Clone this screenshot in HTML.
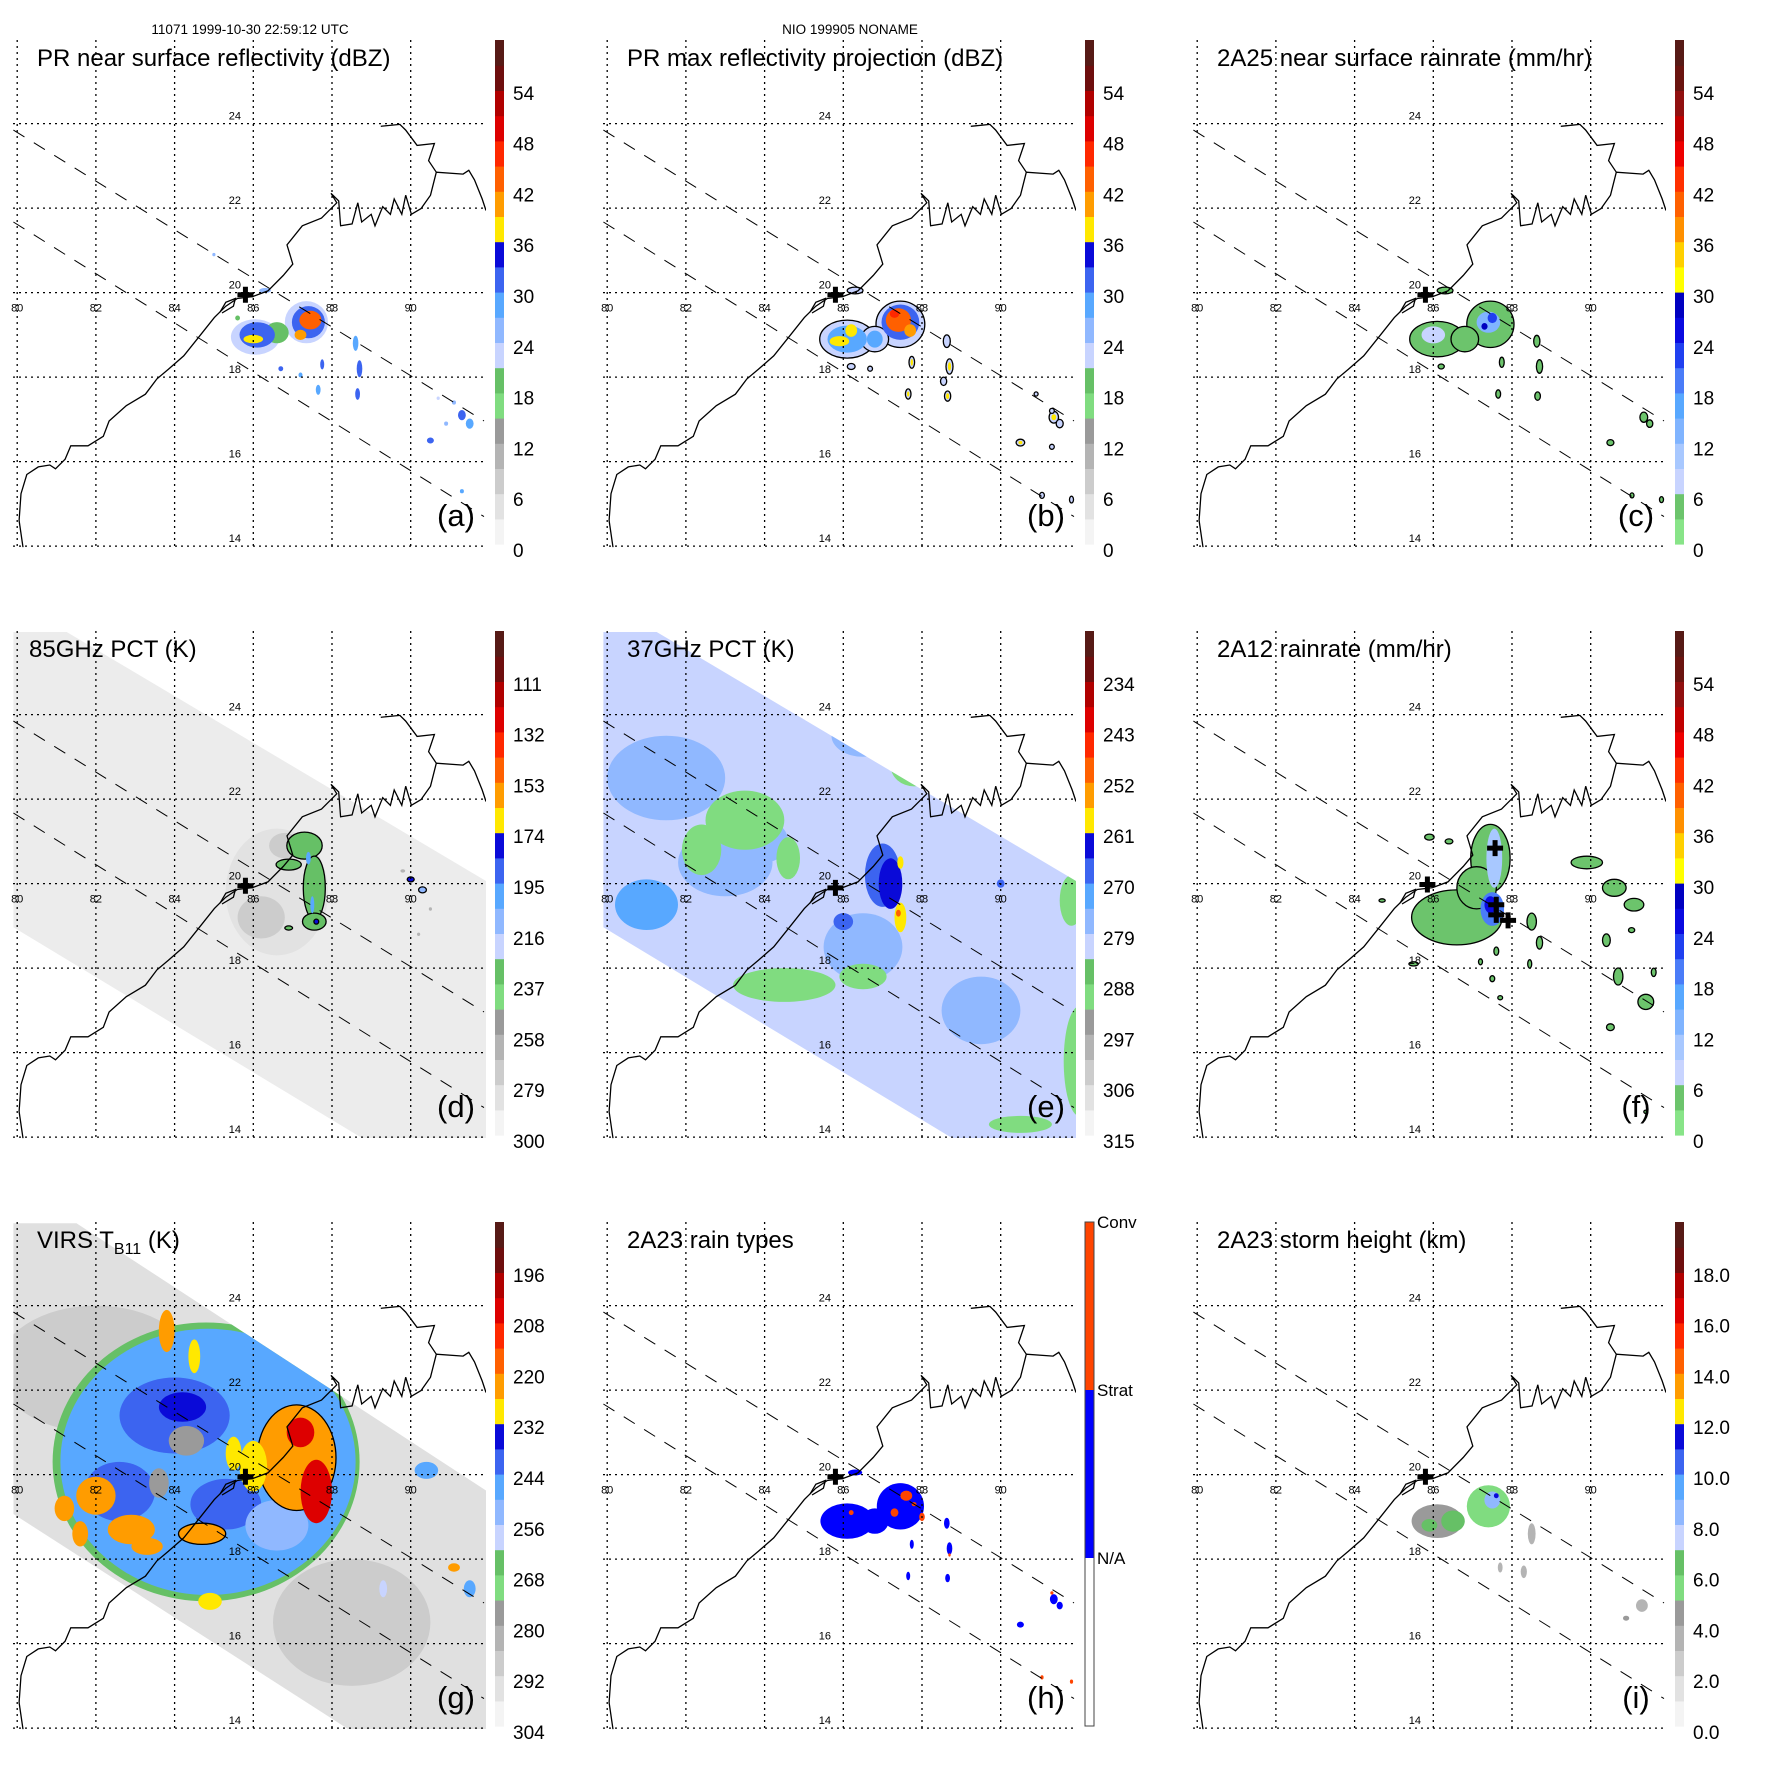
<!DOCTYPE html>
<html><head><meta charset="utf-8"><style>
html,body{margin:0;padding:0;background:#fff}
svg{display:block}
text{font-family:"Liberation Sans",sans-serif}
</style></head><body>
<svg id="fig" xmlns="http://www.w3.org/2000/svg" width="1771" height="1771" viewBox="0 0 1771 1771">
<defs>
<clipPath id="mapclip" clipPathUnits="userSpaceOnUse"><rect x="13.4" y="40.2" width="472.6" height="507.1"/></clipPath>
<clipPath id="swathTMI" clipPathUnits="userSpaceOnUse"><polygon points="13,41 66.7,41 486,290 486,547 362,547 13,336"/></clipPath>
<clipPath id="swathVIRS" clipPathUnits="userSpaceOnUse"><polygon points="13,41.3 76.5,41.3 486,308.5 486,547 348,547 13.4,332"/></clipPath>
</defs>
<text x="250" y="34" font-size="13.5" text-anchor="middle">11071 1999-10-30 22:59:12 UTC</text>
<text x="850" y="34" font-size="13.5" text-anchor="middle">NIO 199905 NONAME</text>
</svg>
<script>
// ---------- data arrays (lon, lat, radius-lon, radius-lat, value) ----------
const panelA = [
[86.05,18.95,0.62,0.42,22],[87.35,19.3,0.55,0.5,23],[86.6,19.05,0.3,0.25,20],
[86.1,19.0,0.45,0.3,30],[87.4,19.3,0.42,0.38,31],[86.0,18.9,0.25,0.1,38],[87.45,19.35,0.28,0.22,42],[87.2,19.0,0.15,0.12,40],
[86.3,20.05,0.15,0.06,26],[85.0,20.9,0.04,0.04,24],[85.6,19.4,0.06,0.06,20],
[88.6,18.8,0.07,0.18,28],[88.7,18.2,0.07,0.2,30],[88.65,17.6,0.06,0.14,32],[87.75,18.3,0.05,0.12,30],[87.65,17.7,0.06,0.12,28],[86.7,18.2,0.06,0.06,30],[87.2,18.05,0.05,0.06,28],
[91.3,17.1,0.1,0.12,30],[91.5,16.9,0.1,0.12,28],[90.5,16.5,0.09,0.07,32],[91.1,17.4,0.05,0.05,26],[90.9,16.9,0.05,0.05,24],[92.0,15.2,0.05,0.08,30],[91.3,15.3,0.05,0.05,28],[90.7,17.5,0.04,0.04,22]
];
const panelB = [
[86.1,18.9,0.7,0.45,22],[87.45,19.25,0.62,0.55,22],[86.8,18.9,0.35,0.3,22],[86.3,20.05,0.2,0.08,22],
[86.1,18.9,0.5,0.32,29],[87.45,19.3,0.48,0.42,30],[86.8,18.9,0.2,0.2,28],
[85.9,18.85,0.25,0.12,37],[86.2,19.1,0.15,0.15,38],[87.4,19.35,0.32,0.28,43],[87.7,19.1,0.15,0.15,40],[87.3,19.5,0.12,0.1,47],
[88.63,18.85,0.09,0.15,22],[88.7,18.25,0.09,0.18,22],[88.55,17.9,0.08,0.1,22],[88.65,17.55,0.08,0.12,22],[87.74,18.35,0.07,0.14,22],[87.65,17.6,0.07,0.12,22],[86.68,18.2,0.06,0.06,22],[86.2,18.25,0.1,0.07,22],
[91.35,17.05,0.12,0.14,22],[90.5,16.45,0.11,0.08,22],[91.3,17.2,0.06,0.06,22],[91.5,16.9,0.09,0.1,22],[91.3,16.35,0.06,0.06,22],[90.9,17.6,0.05,0.05,22],[91.05,15.2,0.06,0.07,22],[91.8,15.1,0.05,0.08,22],
[88.7,18.25,0.04,0.1,38],[88.65,17.55,0.04,0.07,38],[87.74,18.35,0.03,0.08,38],[91.35,17.05,0.06,0.07,38],[90.5,16.45,0.05,0.04,38],[87.65,17.6,0.03,0.06,38]
];
const panelC = [
[86.1,18.9,0.7,0.42,3],[87.45,19.25,0.6,0.55,3],[86.8,18.9,0.35,0.3,3],[86.3,20.05,0.2,0.08,3],
[86.0,19.0,0.3,0.2,8],[87.4,19.3,0.3,0.25,12],[87.5,19.4,0.12,0.12,22],[87.3,19.2,0.08,0.08,27],
[88.63,18.85,0.08,0.14,3],[88.7,18.25,0.08,0.16,3],[88.65,17.55,0.07,0.1,3],[87.74,18.35,0.06,0.12,3],[87.65,17.6,0.06,0.1,3],[86.2,18.25,0.08,0.06,3],
[91.35,17.05,0.1,0.12,3],[90.5,16.45,0.09,0.07,3],[91.5,16.9,0.08,0.09,3],[91.05,15.2,0.05,0.06,3],[91.8,15.1,0.05,0.07,3]
];
const panelD = [
[86.6,19.8,1.3,1.5,281],[86.2,19.2,0.6,0.5,275],[86.8,20.9,0.4,0.3,276],
[87.3,20.9,0.45,0.32,235],[86.9,20.45,0.32,0.13,235],[87.55,19.9,0.28,0.75,235],[87.55,19.1,0.3,0.2,235],[86.9,18.95,0.1,0.05,235],
[87.4,20.6,0.06,0.15,205],[87.5,19.5,0.05,0.2,200],[87.6,19.1,0.06,0.06,175],
[90.0,20.1,0.09,0.06,175],[90.3,19.85,0.1,0.07,210],[89.8,20.3,0.06,0.04,265],[90.5,19.4,0.04,0.04,265],[90.2,18.8,0.04,0.04,265]
];
const panelE = [
[81.5,22.5,1.5,1.0,276],[83,20.5,1.2,0.8,276],[81,19.5,0.8,0.6,274],[86.5,23.5,0.8,0.5,276],[86.5,18.5,1.0,0.8,276],[84,21,0.6,0.5,276],[89.5,17,1,0.8,277],
[83.5,21.5,1.0,0.7,290],[82.4,20.8,0.5,0.6,290],[84.6,20.6,0.3,0.5,290],[84.5,17.6,1.3,0.4,290],[86.5,17.8,0.6,0.3,290],[87.8,22.8,0.6,0.5,290],[89.5,22.2,0.7,0.4,290],[92,15.8,0.4,1.3,290],[91.8,19.6,0.3,0.6,290],[90.5,14.3,0.8,0.2,290],
[87.0,20.2,0.45,0.75,270],[86.0,19.1,0.25,0.2,270],[90.0,20.0,0.1,0.1,270],
[87.2,20.0,0.3,0.6,264],[87.45,19.2,0.15,0.35,259],[87.45,20.5,0.08,0.15,259],[87.4,19.3,0.06,0.08,250]
];
const panelF = [
[86.6,19.2,1.15,0.65,3],[87.45,20.6,0.5,0.8,3],[87.1,19.9,0.5,0.5,3],
[89.9,20.5,0.4,0.15,3],[90.6,19.9,0.3,0.2,3],[91.1,19.5,0.25,0.15,3],[91.04,18.9,0.08,0.06,3],[90.4,18.66,0.1,0.15,3],[90.7,17.8,0.12,0.2,3],[91.4,17.2,0.2,0.18,3],[91.6,17.9,0.06,0.1,3],[90.5,16.6,0.1,0.08,3],
[88.5,19.1,0.12,0.2,3],[88.7,18.6,0.08,0.15,3],[88.45,18.1,0.05,0.1,3],[87.6,18.4,0.06,0.1,3],[87.5,17.75,0.06,0.07,3],[87.7,17.3,0.06,0.05,3],[87.2,18.15,0.05,0.07,3],
[85.9,21.1,0.12,0.07,3],[86.4,21.0,0.1,0.06,3],[84.7,19.6,0.08,0.04,3],[85.5,18.1,0.12,0.05,3],[92.3,15.2,0.05,0.04,3],[91.4,14.6,0.05,0.04,3],
[87.55,20.6,0.2,0.7,10],[87.5,19.4,0.3,0.4,18],[87.45,19.5,0.15,0.2,24],[86.5,19.3,0.3,0.3,5]
];
const panelG = [
[82,22.5,2.5,1.5,291],[88.5,16.5,2,1.5,290],
[84.8,20.3,3.9,3.3,268],[84.85,20.3,3.75,3.15,250],[84.5,20.6,3.2,2.65,246],[84.0,21.4,1.4,0.9,241],[82.6,19.6,0.9,0.7,241],[85.3,19.3,0.9,0.6,241],[84.2,21.6,0.6,0.35,236],
[86.6,18.8,0.8,0.6,253],[84.3,20.8,0.45,0.35,280],[83.6,19.8,0.25,0.35,280],
[87.1,20.4,1.0,1.25,224],[87.6,19.6,0.4,0.75,206],[87.2,21.0,0.35,0.35,208],[86.0,20.2,0.35,0.6,230],[85.5,20.5,0.2,0.4,228],[82.0,19.5,0.5,0.45,226],[82.9,18.7,0.6,0.35,222],[81.2,19.2,0.25,0.3,222],[84.7,18.6,0.6,0.25,224],[83.8,23.4,0.2,0.5,226],[84.5,22.8,0.15,0.4,230],[84.9,17.0,0.3,0.2,230],[83.3,18.3,0.4,0.2,226],[81.6,18.6,0.2,0.3,226],
[90.4,20.1,0.3,0.2,250],[91.1,17.8,0.15,0.1,222],[91.5,17.3,0.15,0.2,250],[89.3,17.3,0.1,0.2,260]
];
const panelH = [
[86.1,18.9,0.68,0.42,2],[87.45,19.25,0.6,0.55,2],[86.8,18.9,0.35,0.3,2],[86.3,20.05,0.18,0.07,2],
[87.6,19.5,0.15,0.12,3],[87.3,19.1,0.1,0.1,3],[88.0,19.0,0.07,0.1,3],[86.2,19.1,0.06,0.06,3],[87.8,19.3,0.06,0.05,3],
[88.63,18.85,0.07,0.13,2],[88.7,18.25,0.07,0.15,2],[88.65,17.55,0.06,0.1,2],[87.74,18.35,0.05,0.11,2],[87.65,17.6,0.05,0.1,2],
[91.35,17.05,0.1,0.12,2],[90.5,16.45,0.09,0.07,2],[91.5,16.9,0.08,0.09,2],[88.7,18.1,0.03,0.04,3],[91.3,17.2,0.04,0.04,3],[91.05,15.2,0.04,0.05,3],[91.8,15.1,0.04,0.05,3]
];
const panelI = [
[86.1,18.9,0.65,0.4,4.5],[87.4,19.25,0.55,0.5,5.5],[86.5,18.9,0.3,0.25,6.0],[85.9,18.8,0.2,0.15,6.0],[87.5,19.4,0.2,0.2,8.0],[87.6,19.5,0.06,0.06,11],
[88.5,18.6,0.1,0.25,3.5],[88.3,17.7,0.08,0.15,3.5],[87.7,17.8,0.06,0.12,3.5],[91.3,16.9,0.15,0.15,3.5],[90.9,16.6,0.08,0.06,4],[92.0,15.2,0.05,0.07,3.5]
];
// colorbar tick labels
const ticksA = ["0","6","12","18","24","30","36","42","48","54"];
const ticksC = ["0","6","12","18","24","30","36","42","48","54"];
const ticksD = ["300","279","258","237","216","195","174","153","132","111"];
const ticksE = ["315","306","297","288","279","270","261","252","243","234"];
const ticksG = ["304","292","280","268","256","244","232","220","208","196"];
const ticksI = ["0.0","2.0","4.0","6.0","8.0","10.0","12.0","14.0","16.0","18.0"];
const ticksH = ["N/A","Strat","Conv"];
const latTicks = [14,16,18,20,22,24];
const lonTicks = [80,82,84,86,88,90];

// ---------- helpers ----------
const NS="http://www.w3.org/2000/svg";
const svg=document.getElementById('fig');
const X=lon=>17.2+(lon-80)*39.35;
const Y=lat=>546.1-(lat-14)*42.25;
const PAL=["#f4f4f4","#e2e2e2","#cccccc","#b4b4b4","#9a9a9a","#80dc80","#66c066","#c8d4ff","#90b8ff","#58a8ff","#3c64f0","#0a0ad8","#ffe800","#ff9c00","#ff6000","#ff2800","#dd0000","#b00000","#6e0e0e","#561a16"];
const PALR=["#88e488","#6cc46c","#c8d4ff","#a8c8ff","#80b4ff","#58a8ff","#4a7cf8","#2040f0","#0a0ae0","#0000c0","#ffff00","#ffd000","#ff9000","#ff6000","#ff3000","#ee0000","#c00000","#901010","#6a1410","#561a16"];
function mk(tag,attrs,parent){const e=document.createElementNS(NS,tag);for(const k in attrs)e.setAttribute(k,attrs[k]);(parent||svg).appendChild(e);return e;}
function binOf(v,lo,hi){let f=(v-lo)/(hi-lo);let b=Math.floor(f*20);return Math.max(0,Math.min(19,b));}
const coast=[[60,1430],[50,1360],[55,1290],[70,1240],[100,1220],[130,1215],[145,1225],[170,1200],[185,1165],[230,1165],[270,1140],[285,1100],[330,1060],[380,1030],[410,990],[440,965],[480,930],[520,880],[560,830],[590,800],[620,780],[660,775],[700,760],[740,720],[765,690],[750,640],[790,590],[840,570],[880,530],[865,505],[885,525],[890,590],[920,585],[935,530],[945,580],[970,560],[980,590],[1000,540],[1020,560],[1030,520],[1050,560],[1060,510],[1075,560],[1100,545],[1125,510],[1140,450],[1210,455],[1225,445],[1240,470],[1260,520],[1270,550]];
const coast2=[[1140,450],[1120,420],[1135,375],[1090,380],[1060,340],[1045,325],[995,330]];
const lake=[[575,815],[590,790],[615,780],[610,800],[580,818]];
const ptsStr=a=>a.map(p=>(p[0]*0.3827).toFixed(1)+','+(p[1]*0.3827).toFixed(1)).join(' ');

function panel(cfg){
  const g=mk('g',{transform:`translate(${cfg.dx},${cfg.dy})`});
  
  
  const field=mk('g',{'clip-path':'url(#mapclip)'},g);
  
  
  let inner=field;
  if(cfg.swath){
    inner=mk('g',{'clip-path':`url(#${cfg.swath})`},field);
    mk('rect',{x:0,y:0,width:500,height:560,fill:cfg.swathFill},inner);
  }
  cfg.data.forEach(d=>{
    const c=cfg.color(d[4]);
    const e=mk('ellipse',{cx:X(d[0]).toFixed(1),cy:Y(d[1]).toFixed(1),rx:(d[2]*39.35).toFixed(1),ry:(d[3]*42.25).toFixed(1),fill:c},inner);
    
    
    if(cfg.outline && cfg.outline(d[4])){e.setAttribute('stroke','#000');e.setAttribute('stroke-width','1.3');}
  });
  const cl=mk('g',{'clip-path':'url(#mapclip)',fill:'none',stroke:'#000','stroke-width':'1.3'},g);
  
  
  mk('polyline',{points:ptsStr(coast)},cl);
  mk('polyline',{points:ptsStr(coast2)},cl);
  mk('polyline',{points:ptsStr(lake)},cl);
  const gr=mk('g',{stroke:'#000','stroke-width':'1.3','stroke-dasharray':'2,4'},g);
  
  
  lonTicks.forEach(l=>mk('line',{x1:X(l),y1:40,x2:X(l),y2:548},gr));
  latTicks.forEach(l=>mk('line',{x1:13,y1:Y(l),x2:486,y2:Y(l)},gr));
  const sw=mk('g',{stroke:'#000','stroke-width':'1','stroke-dasharray':'13,11'},g);
  
  
  mk('line',{x1:13.4,y1:130.1,x2:484,y2:421},sw);
  mk('line',{x1:13.4,y1:222,x2:484,y2:516.6},sw);
  latTicks.forEach(l=>{const t=mk('text',{x:241,y:Y(l)-4,'font-size':'11','text-anchor':'end'},g);t.textContent=l;
    });
  lonTicks.forEach(l=>{const t=mk('text',{x:X(l),y:Y(20)+19,'font-size':'11','text-anchor':'middle'},g);t.textContent=l;
    });
  (cfg.marks||[[85.8,19.95]]).forEach(m=>{const x=X(m[0]),y=Y(m[1]);
    const p=mk('path',{d:`M${x-2.5},${y-8}h5v5.5h5.5v5h-5.5v5.5h-5v-5.5h-5.5v-5h5.5z`,fill:'#000'},g);
    });
  const t=mk('text',{x:cfg.tx||37,y:66,'font-size':'24'},g);
  
  t.innerHTML=cfg.title;
  const lt=mk('text',{x:456,y:526,'font-size':'31','text-anchor':'middle'},g);
  lt.textContent=cfg.letter;
  
  const cb=mk('g',{},g);
  
  
  const top=40,H=504;
  if(cfg.discrete){
    const cols=['#ffffff','#0000ff','#ff4400'];
    cols.forEach((c,i)=>mk('rect',{x:495,y:top+H-(i+1)*H/3,width:9,height:H/3,fill:c},cb));
    mk('rect',{x:495,y:top,width:9,height:H,fill:'none',stroke:'#444','stroke-width':'1'},cb);
    ticksH.forEach((s,i)=>{const tt=mk('text',{x:507,y:top+H-(i+1)*H/3+6,'font-size':'17'},cb);tt.textContent=s;
      });
  } else {
    cfg.pal.forEach((c,i)=>mk('rect',{x:495,y:(top+H-(i+1)*H/20).toFixed(2),width:9,height:(H/20+0.6).toFixed(2),fill:c},cb));
    cfg.ticks.forEach((s,i)=>{const tt=mk('text',{x:513,y:(557-i*50.8).toFixed(1),'font-size':'19'},cb);tt.textContent=s;
      });
  }
}
const C=590,R=591;
panel({name:'panel-a-pr-reflectivity',dx:0,dy:0,data:panelA,color:v=>PAL[binOf(v,0,60)],pal:PAL,ticks:ticksA,title:'PR near surface reflectivity (dBZ)',letter:'(a)'});
panel({name:'panel-b-pr-max-reflectivity',dx:C,dy:0,data:panelB,color:v=>PAL[binOf(v,0,60)],outline:v=>v<=22,pal:PAL,ticks:ticksA,title:'PR max reflectivity projection (dBZ)',letter:'(b)'});
panel({name:'panel-c-2a25-rainrate',dx:2*C,dy:0,data:panelC,color:v=>PALR[binOf(v,0,60)],outline:v=>v<=4,pal:PALR,ticks:ticksC,title:'2A25 near surface rainrate (mm/hr)',letter:'(c)'});
panel({name:'panel-d-85ghz-pct',dx:0,dy:R,swath:'swathTMI',swathFill:'#ececec',data:panelD,color:v=>PAL[binOf(300-v,0,210)],outline:v=>v===235||v===175||v===210,pal:PAL,ticks:ticksD,title:'85GHz PCT (K)',letter:'(d)',tx:29});
panel({name:'panel-e-37ghz-pct',dx:C,dy:R,swath:'swathTMI',swathFill:'#c8d4ff',data:panelE,color:v=>PAL[binOf(315-v,0,90)],pal:PAL,ticks:ticksE,title:'37GHz PCT (K)',letter:'(e)',marks:[[85.8,19.9]]});
panel({name:'panel-f-2a12-rainrate',dx:2*C,dy:R,data:panelF,color:v=>PALR[binOf(v,0,60)],outline:v=>v<=4,pal:PALR,ticks:ticksC,title:'2A12 rainrate (mm/hr)',letter:'(f)',marks:[[85.85,19.98],[87.57,20.84],[87.6,19.5],[87.6,19.26],[87.9,19.13]]});
panel({name:'panel-g-virs-tb11',dx:0,dy:2*R,swath:'swathVIRS',swathFill:'#e0e0e0',data:panelG,color:v=>PAL[binOf(304-v,0,120)],outline:v=>v===224,pal:PAL,ticks:ticksG,title:'VIRS T<tspan font-size="16" dy="6">B11</tspan><tspan dy="-6"> (K)</tspan>',letter:'(g)'});
panel({name:'panel-h-2a23-rain-types',dx:C,dy:2*R,data:panelH,color:v=>v===3?'#ff4400':(v===2?'#0000ff':'#ffffff'),discrete:true,title:'2A23 rain types',letter:'(h)'});
panel({name:'panel-i-2a23-storm-height',dx:2*C,dy:2*R,data:panelI,color:v=>PAL[binOf(v,0,20)],pal:PAL,ticks:ticksI,title:'2A23 storm height (km)',letter:'(i)'});
</script>
</body></html>
